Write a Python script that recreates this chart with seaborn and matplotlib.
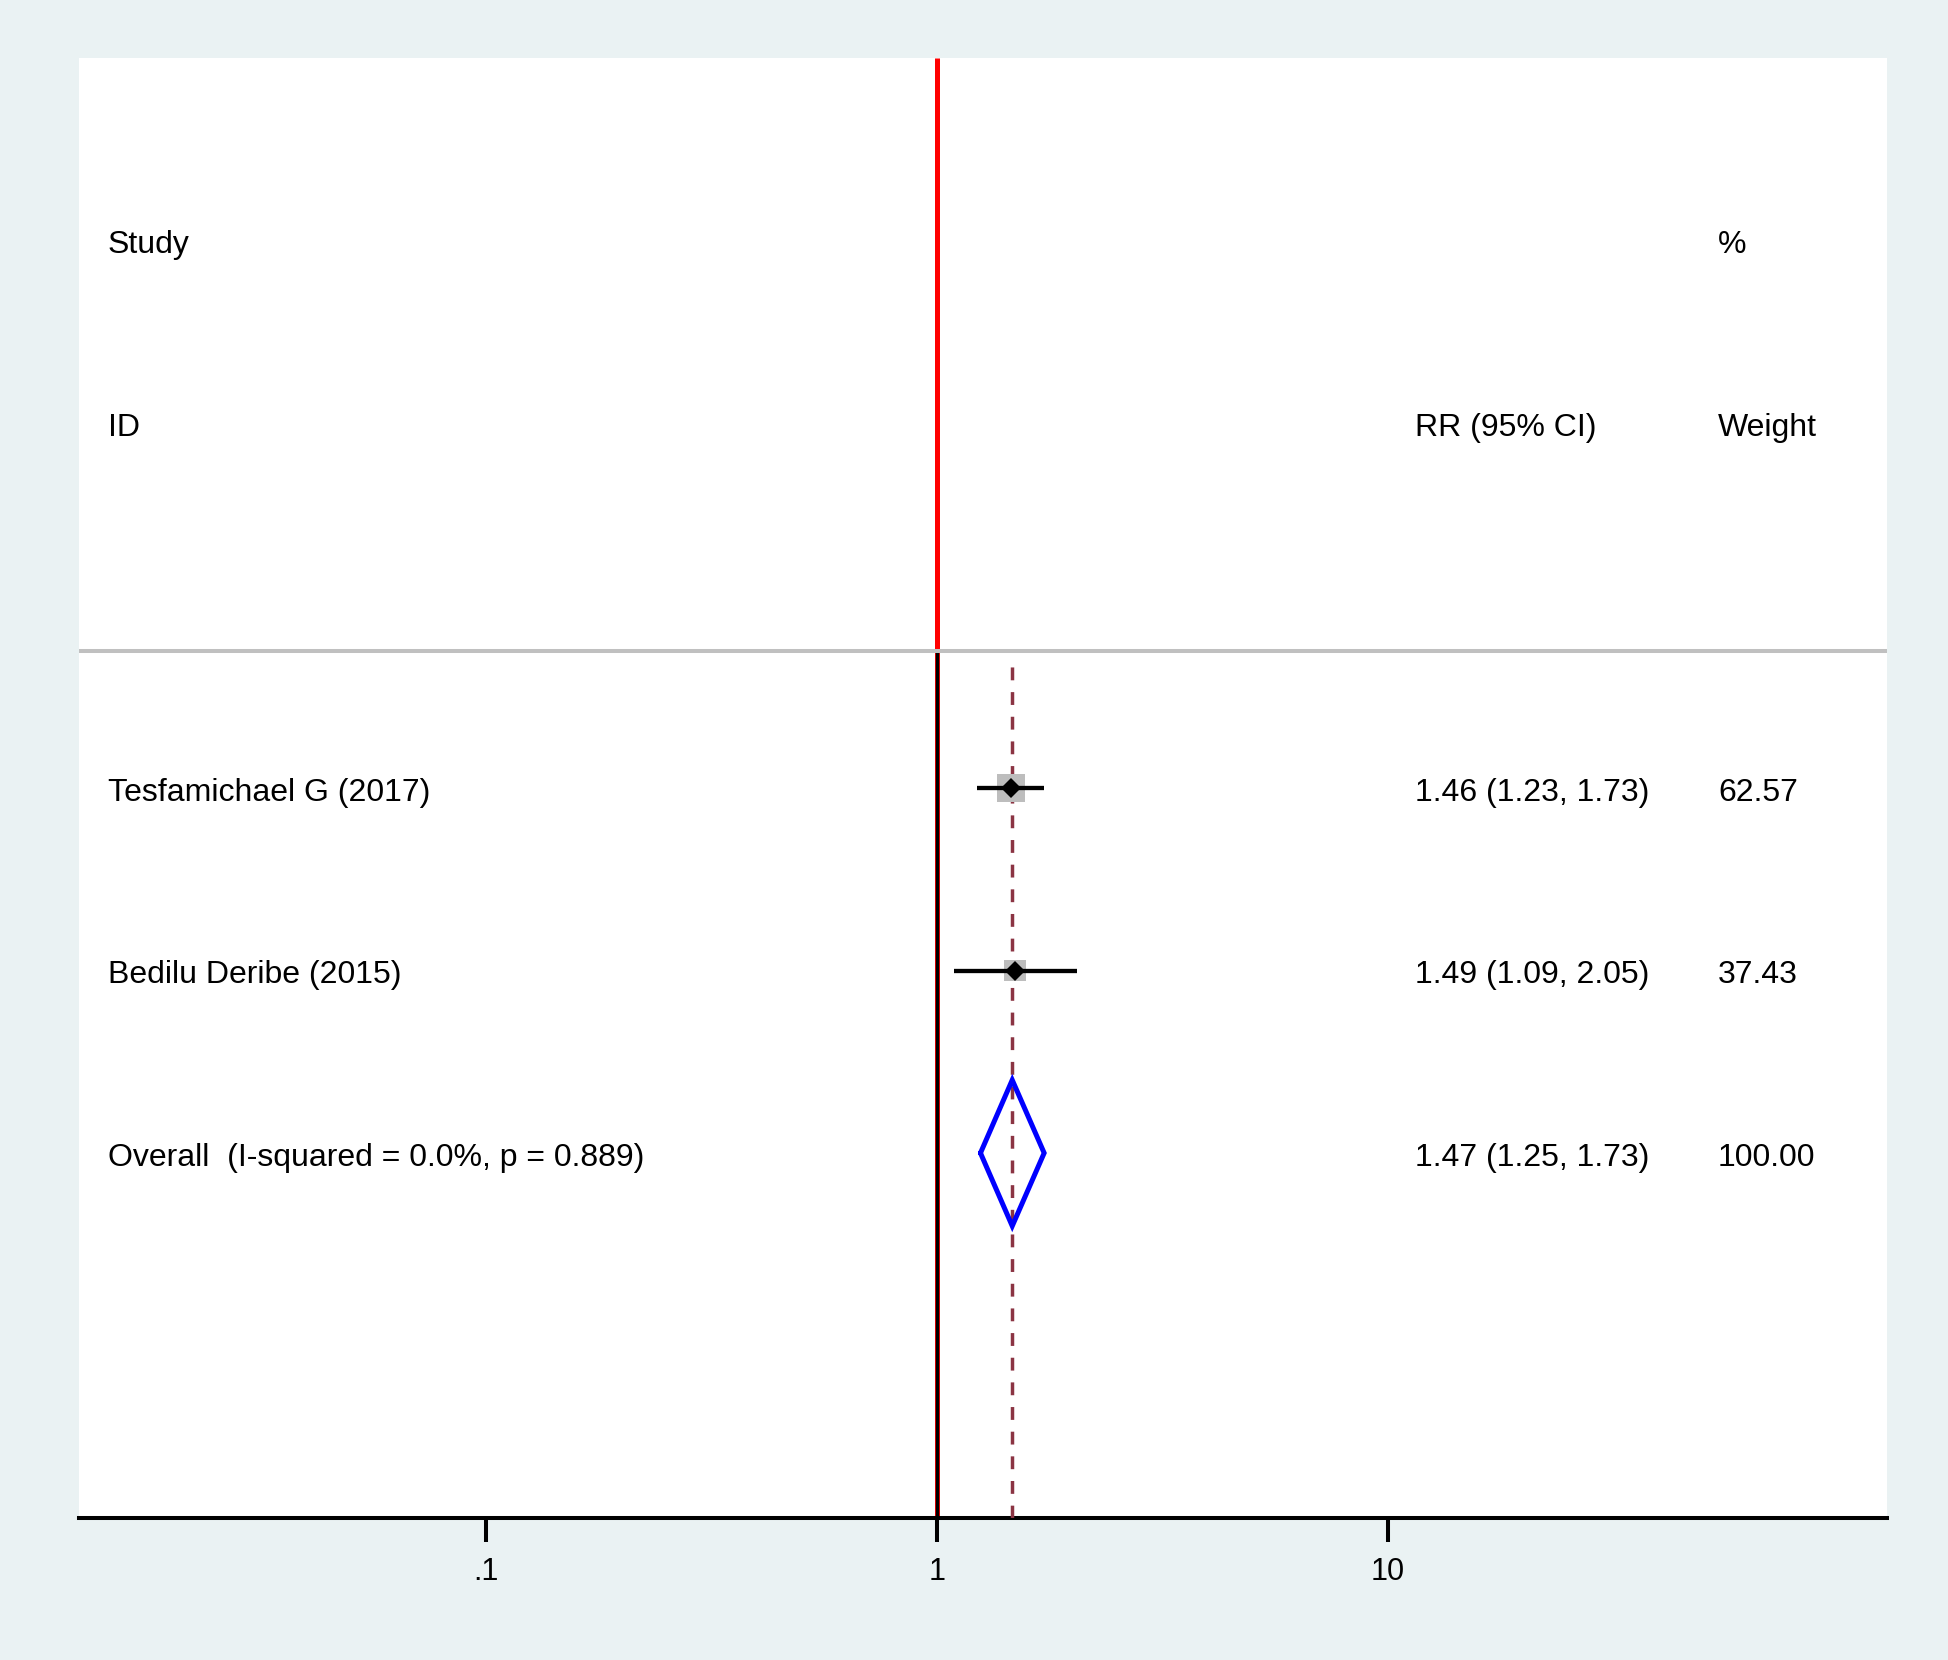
import pandas as pd
import matplotlib
matplotlib.use('Agg')
import matplotlib.pyplot as plt
import matplotlib.ticker as mticker
import matplotlib.transforms as mtransforms
import seaborn as sns

# Datos del forest plot
estudios = ['Tesfamichael G (2017)', 'Bedilu Deribe (2015)']
rr = [1.46, 1.49]
ic_inf = [1.23, 1.09]
ic_sup = [1.73, 2.05]
pesos = [62.57, 37.43]

overall_rr = 1.47
overall_inf = 1.25
overall_sup = 1.73
i_cuadrado = 0.0
valor_p = 0.889

ticks_x = [0.1, 1, 10]
etiquetas_x = ['.1', '1', '10']

sns.set_theme(style='white')
plt.rcParams['font.family'] = ['Liberation Sans', 'DejaVu Sans']

fondo = '#EAF2F3'
fig = plt.figure(figsize=(19.48, 16.6), dpi=100, facecolor=fondo)
ax = fig.add_axes([0.04055, 0.08554, 0.9281, 0.8795])
ax.set_facecolor('white')

# posiciones verticales de las filas
y_estudios = [3, 2]
y_overall = 1
y_linea_gris = 3.75

df = pd.DataFrame({'estudio': estudios, 'rr': rr, 'inf': ic_inf, 'sup': ic_sup,
                   'peso': pesos, 'y': y_estudios})

# linea de referencia en 1
ax.plot([1, 1], [-1, 7], color='red', lw=3.6, zorder=2, solid_capstyle='butt')
ax.plot([1, 1], [-1, y_linea_gris], color='black', lw=2.4, zorder=3, solid_capstyle='butt')

# linea gris bajo los encabezados
ax.axhline(y_linea_gris, color='#C0C0C0', lw=2.9, zorder=4)

# linea discontinua del efecto global
ax.plot([overall_rr, overall_rr], [-1, 3.7], color='#8B3443', lw=2.5,
        dashes=(3.7, 3.4), zorder=3)

# cuadrados grises proporcionales al peso
sns.scatterplot(data=df, x='rr', y='y', size='peso', sizes=(250, 410),
                size_norm=(min(pesos), max(pesos)), marker='s', color='#BDBDBD',
                linewidth=0, legend=False, ax=ax, zorder=5)

# intervalos de confianza
for _, fila in df.iterrows():
    ax.plot([fila['inf'], fila['sup']], [fila['y'], fila['y']], color='black',
            lw=3.1, zorder=6, solid_capstyle='butt')
ax.plot(df['rr'], df['y'], linestyle='none', marker='D', markersize=10.5,
        color='black', markeredgewidth=0, zorder=7)

# diamante global
h = 0.4
ax.plot([overall_inf, overall_rr, overall_sup, overall_rr, overall_inf],
        [y_overall, y_overall + h, y_overall, y_overall - h, y_overall],
        color='#0000FF', lw=3.6, zorder=6, solid_joinstyle='miter')

# textos de columnas
trans = mtransforms.blended_transform_factory(ax.transAxes, ax.transData)
fs = 23
dy = -0.025
col_id, col_rr, col_peso = 0.016, 0.739, 0.9065


def escribir(x, y, texto):
    ax.text(x, y + dy, texto, transform=trans, fontsize=fs, va='center', color='black')


escribir(col_id, 6, 'Study')
escribir(col_peso, 6, '%')
escribir(col_id, 5, 'ID')
escribir(col_rr, 5, 'RR (95% CI)')
escribir(col_peso, 5, 'Weight')

for _, fila in df.iterrows():
    escribir(col_id, fila['y'], fila['estudio'])
    escribir(col_rr, fila['y'], f"{fila['rr']:.2f} ({fila['inf']:.2f}, {fila['sup']:.2f})")
    escribir(col_peso, fila['y'], f"{fila['peso']:.2f}")

escribir(col_id, y_overall, f'Overall  (I-squared = {i_cuadrado:.1f}%, p = {valor_p:.3f})')
escribir(col_rr, y_overall, f'{overall_rr:.2f} ({overall_inf:.2f}, {overall_sup:.2f})')
escribir(col_peso, y_overall, f'{sum(pesos):.2f}')

# ejes
ax.set_xscale('log')
ax.set_xlim(0.01256, 127.6)
ax.set_ylim(-1, 7)
ax.xaxis.set_major_locator(mticker.FixedLocator(ticks_x))
ax.xaxis.set_major_formatter(mticker.FixedFormatter(etiquetas_x))
ax.xaxis.set_minor_locator(mticker.NullLocator())
ax.set_yticks([])
ax.set_xlabel('')
ax.set_ylabel('')
for lado in ['top', 'left', 'right']:
    ax.spines[lado].set_visible(False)
ax.spines['bottom'].set_color('black')
ax.spines['bottom'].set_linewidth(2.9)
ax.tick_params(axis='x', which='major', direction='out', length=17, width=2.9,
               pad=11, labelsize=22, colors='black', bottom=True)

plt.savefig('out.png', dpi=100, facecolor=fig.get_facecolor())
